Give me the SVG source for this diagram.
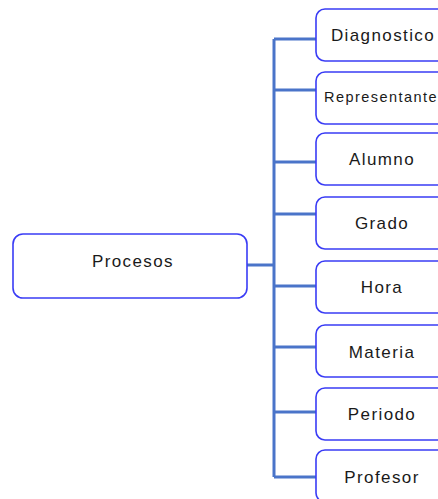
<svg xmlns="http://www.w3.org/2000/svg" width="438" height="499" viewBox="0 0 438 499">
<style>
.box{fill:#fff;stroke:#3a3cf5;stroke-width:1.6}
.t{font-family:"Liberation Sans",Arial,sans-serif;font-size:17px;fill:#1a1a1a;text-anchor:middle;letter-spacing:1.4px}
.s{font-size:14.5px;letter-spacing:1.45px}
.c{fill:none;stroke:#4a74c9;stroke-width:3}
</style>
<g id="connectors">
<path class="c" d="M247 265H274M274 39V477M274 39H316M274 90H316M274 162H316M274 214H316M274 286H316M274 347H316M274 412H316M274 477H316"/>
</g>
<g id="procesos"><rect class="box" x="13" y="234" width="234" height="64" rx="10"/><text class="t" x="133" y="267">Procesos</text></g>
<g id="diagnostico"><rect class="box" x="316" y="9" width="134" height="52" rx="9"/><text class="t" x="383" y="41">Diagnostico</text></g>
<g id="representante"><rect class="box" x="316" y="72" width="134" height="52" rx="9"/><text class="t s" x="381" y="102">Representante</text></g>
<g id="alumno"><rect class="box" x="316" y="133" width="134" height="52" rx="9"/><text class="t" x="382" y="165">Alumno</text></g>
<g id="grado"><rect class="box" x="316" y="197" width="134" height="52" rx="9"/><text class="t" x="382" y="229">Grado</text></g>
<g id="hora"><rect class="box" x="316" y="261" width="134" height="52" rx="9"/><text class="t" x="382" y="293">Hora</text></g>
<g id="materia"><rect class="box" x="316" y="325" width="134" height="52" rx="9"/><text class="t" x="382" y="358">Materia</text></g>
<g id="periodo"><rect class="box" x="316" y="388" width="134" height="52" rx="9"/><text class="t" x="382" y="420">Periodo</text></g>
<g id="profesor"><rect class="box" x="316" y="450" width="134" height="52" rx="9"/><text class="t" x="382" y="483">Profesor</text></g>
</svg>
